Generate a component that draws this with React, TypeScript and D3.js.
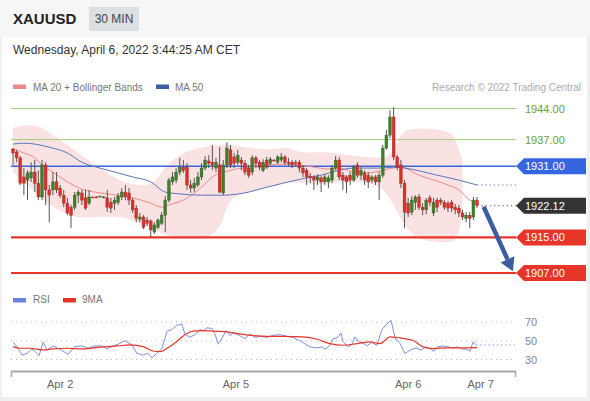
import React from "react";
import * as d3 from "d3";

// ---------- DATA ----------
const opens = [1934.9,1934.2,1932.9,1928.6,1927.9,1928.4,1929.7,1927.2,1924.1,1931.3,
1925.7,1925.7,1927.5,1926.1,1924.5,1922.7,1921.8,1921.8,1924.5,1925.0,
1923.9,1922.7,1924.1,1924.1,1924.1,1924.1,1923.9,1922.9,1922.7,1922.9,
1924.1,1925.2,1925.0,1923.4,1921.6,1919.1,1919.6,1918.9,1918.7,1916.2,
1917.3,1918.2,1920.0,1923.4,1927.5,1927.9,1929.7,1930.8,1930.8,1926.8,
1926.1,1926.8,1928.6,1930.6,1932.2,1931.9,1930.6,1931.3,1925.0,1931.3,
1934.7,1933.1,1931.9,1932.4,1931.7,1930.6,1929.7,1932.9,1931.9,1930.1,
1932.4,1931.7,1932.4,1931.9,1932.4,1933.1,1931.9,1931.9,1931.9,1931.9,
1930.6,1930.1,1928.8,1928.6,1927.9,1928.4,1927.5,1927.5,1927.9,1930.6,
1932.4,1929.0,1928.6,1929.0,1927.9,1931.3,1929.0,1929.5,1929.0,1927.9,
1928.6,1927.5,1929.0,1935.1,1938.0,1942.1,1933.1,1931.3,1927.2,1922.7,
1920.7,1922.9,1924.1,1921.8,1921.2,1923.9,1920.5,1923.4,1923.4,1922.9,
1922.7,1922.9,1921.8,1921.6,1920.5,1919.3,1920.0,1919.6,1923.4];
const highs = [1935.1,1934.7,1933.3,1930.6,1930.1,1931.9,1932.4,1930.1,1932.4,1931.9,
1926.8,1929.7,1929.7,1926.8,1925.7,1923.9,1922.3,1925.2,1925.7,1925.7,
1925.7,1925.7,1924.1,1924.3,1924.3,1924.3,1925.7,1923.9,1924.1,1925.0,
1926.1,1926.8,1926.1,1923.9,1922.3,1920.5,1920.0,1919.6,1919.1,1918.4,
1919.3,1920.7,1924.3,1928.4,1929.7,1930.6,1932.9,1932.4,1931.7,1927.9,
1928.4,1929.7,1931.7,1933.3,1933.5,1935.8,1932.9,1935.3,1932.4,1936.4,
1935.8,1934.0,1934.7,1933.1,1932.4,1931.3,1933.5,1933.3,1932.4,1932.6,
1933.1,1933.1,1932.6,1933.5,1934.0,1933.5,1932.9,1932.4,1932.4,1932.4,
1931.3,1930.6,1929.5,1929.0,1929.2,1928.8,1929.2,1929.0,1931.3,1933.3,
1933.1,1929.7,1929.0,1929.7,1931.3,1931.9,1930.8,1930.1,1929.7,1929.0,
1929.0,1929.7,1935.8,1939.2,1943.6,1944.3,1933.5,1932.4,1927.9,1923.9,
1924.3,1924.5,1924.8,1922.7,1923.9,1924.5,1923.9,1923.9,1923.9,1923.4,
1923.2,1923.4,1922.5,1922.3,1921.2,1920.7,1920.7,1924.1,1924.1];
const lows = [1931.3,1931.9,1926.8,1924.5,1923.4,1927.5,1925.2,1923.4,1923.4,1922.3,
1918.4,1924.5,1925.0,1923.9,1921.8,1920.0,1917.1,1921.2,1922.7,1922.3,
1921.2,1922.3,1923.9,1923.9,1924.1,1923.9,1920.7,1920.5,1921.2,1922.3,
1923.4,1923.4,1922.3,1920.5,1918.4,1918.4,1916.9,1917.6,1915.1,1915.8,
1916.9,1917.8,1916.2,1922.9,1926.8,1927.2,1929.0,1929.5,1925.7,1925.0,
1925.2,1926.3,1927.9,1930.1,1930.6,1930.1,1929.7,1925.0,1924.5,1930.6,
1930.6,1930.6,1931.3,1930.1,1929.0,1928.4,1929.0,1930.6,1930.1,1929.7,
1930.4,1931.3,1932.2,1931.5,1931.9,1931.3,1931.0,1930.6,1931.0,1929.7,
1928.6,1926.8,1927.2,1925.7,1926.8,1925.2,1926.8,1926.1,1927.2,1930.1,
1927.9,1925.7,1925.0,1926.8,1927.5,1928.4,1927.9,1926.8,1926.1,1927.2,
1926.8,1923.4,1928.4,1934.7,1937.3,1932.4,1930.1,1926.1,1917.1,1919.6,
1920.0,1921.2,1921.2,1920.0,1920.2,1922.0,1919.8,1920.7,1922.3,1921.2,
1920.7,1920.7,1920.2,1919.6,1918.9,1918.4,1917.1,1918.9,1921.6];
const closes = [1934.0,1932.9,1927.2,1927.2,1929.5,1929.7,1927.2,1924.1,1931.3,1925.7,
1924.5,1927.5,1925.7,1924.5,1922.7,1920.5,1920.0,1924.5,1925.2,1923.4,
1921.6,1924.1,1924.0,1924.0,1924.3,1924.1,1921.8,1921.6,1923.4,1924.3,
1925.2,1924.1,1923.4,1921.2,1919.3,1919.6,1917.3,1918.2,1916.7,1917.8,
1918.9,1920.0,1923.4,1927.9,1928.6,1929.7,1930.8,1930.1,1926.8,1926.1,
1927.2,1928.6,1930.6,1932.4,1931.7,1931.3,1931.9,1925.2,1931.3,1935.1,
1931.3,1931.7,1933.5,1931.7,1929.7,1929.0,1932.9,1931.7,1930.8,1931.9,
1930.8,1932.6,1932.3,1933.1,1933.1,1931.9,1931.7,1931.3,1931.7,1930.6,
1929.5,1928.6,1928.4,1927.9,1928.6,1927.5,1928.6,1928.4,1930.6,1932.4,
1928.6,1927.9,1927.5,1927.9,1930.8,1929.0,1930.1,1927.9,1927.5,1928.6,
1927.5,1929.0,1935.1,1938.0,1942.1,1933.1,1930.8,1927.2,1920.7,1920.5,
1923.4,1924.1,1921.8,1921.2,1923.4,1922.9,1922.9,1921.8,1922.9,1921.8,
1921.6,1921.6,1921.2,1920.5,1919.6,1920.0,1919.3,1923.4,1922.12];

// [candle index, price]
const ma50 = [[0,1936.0],[3,1936.2],[10,1935.3],[15,1934.0],[19,1931.9],[24,1930.6],[29,1929.5],[33,1928.6],[38,1927.5],[42,1925.2],[46,1924.8],[52,1924.5],[58,1924.5],[65,1925.2],[70,1926.3],[76,1927.5],[81,1928.4],[85,1929.0],[89,1929.9],[94,1930.6],[101,1930.6],[105,1930.8],[108,1930.6],[117,1929.0],[123,1927.9],[128,1926.8]];
const ma20 = [[0,1934.9],[3,1934.0],[6,1932.9],[8,1931.3],[11,1929.7],[15,1927.5],[19,1925.9],[24,1925.0],[29,1924.5],[33,1923.9],[38,1922.7],[41,1921.8],[43,1922.3],[47,1923.4],[52,1926.3],[55,1928.6],[60,1930.1],[65,1930.8],[70,1931.3],[76,1931.5],[79,1931.3],[83,1930.8],[87,1930.4],[90,1930.6],[94,1929.7],[98,1929.5],[102,1930.1],[107,1930.8],[112,1929.0],[120,1926.8],[123,1925.7],[126,1923.4],[128,1922.7]];
const bbUpper = [[0,1939.6],[3,1940.3],[7,1940.3],[10,1938.5],[14,1936.5],[18,1934.0],[24,1930.6],[29,1927.9],[33,1926.8],[38,1926.6],[40,1928.4],[43,1931.9],[46,1933.5],[49,1934.7],[53,1935.3],[57,1936.0],[61,1935.8],[65,1935.1],[70,1934.7],[74,1935.1],[76,1935.3],[79,1934.0],[83,1934.2],[87,1934.2],[92,1933.5],[97,1933.1],[101,1932.9],[104,1933.1],[106,1936.9],[108,1939.2],[112,1939.6],[117,1939.4],[121,1938.5],[122,1937.4],[124,1932.4]];
const bbLower = [[0,1929.7],[3,1927.5],[7,1924.5],[10,1922.3],[15,1920.0],[19,1919.3],[24,1919.6],[29,1919.8],[33,1918.9],[38,1917.1],[42,1915.3],[47,1914.9],[53,1914.9],[56,1916.0],[58,1918.9],[59,1922.3],[61,1924.3],[65,1925.2],[69,1926.1],[74,1927.2],[78,1927.5],[83,1926.8],[87,1927.2],[92,1927.5],[97,1927.5],[101,1926.8],[104,1924.1],[108,1917.3],[112,1914.4],[117,1913.9],[121,1913.9],[123,1914.9],[124,1921.2]];

const rsi = [[0,48.5],[1.1,43.8],[2.5,34.7],[3.9,36.5],[5.2,41.3],[6.1,38.4],[7.2,34.0],[8.3,48.5],[9.4,40.2],[11,44.5],[13,40.9],[15.2,35.5],[17.1,43.8],[19,44.5],[20.7,42.0],[22.6,44.5],[24.6,44.5],[25.9,41.3],[27.3,43.8],[29,46.4],[30.9,50.0],[32.8,45.6],[34.2,36.5],[35.9,34.7],[37.2,36.5],[38.3,31.8],[39.7,36.5],[41.1,42.0],[42.5,60.2],[43.9,62.0],[45.2,66.7],[46.6,67.5],[47.4,57.3],[48.8,53.6],[50.2,56.5],[51.6,62.0],[52.4,60.2],[53.5,63.8],[54.9,63.1],[55.7,57.3],[56.6,46.4],[57.7,52.9],[58.8,60.9],[59.9,55.5],[60.7,58.4],[62.1,56.5],[64,52.2],[65.4,57.3],[66.8,53.6],[68.1,54.7],[70.1,53.6],[71.7,55.8],[73.7,56.5],[75.6,54.7],[77.2,53.6],[78.6,51.1],[80,48.1],[81.9,43.5],[83.9,42.4],[85.2,43.5],[86.1,41.0],[87.4,45.2],[88.3,52.3],[89.4,53.0],[90.5,58.3],[91,49.5],[92.4,43.5],[93.5,45.9],[94.3,54.1],[95.2,49.5],[96.3,48.1],[97.7,44.5],[99,48.1],[100.4,45.2],[101.8,62.2],[103.2,68.2],[104.3,71.8],[105.4,53.0],[106.8,47.0],[108.1,36.4],[109.5,39.9],[111.2,42.4],[112.6,39.9],[113.9,43.5],[115,41.7],[116.1,38.8],[117.2,43.5],[118.6,44.5],[120,43.5],[121.4,42.4],[122.5,43.5],[123.9,41.0],[125,41.0],[126.1,38.8],[126.9,48.8],[127.7,46.0]];
const rsiMa = [[0,43.8],[1.9,42.0],[4.7,42.0],[8.3,40.2],[11,41.3],[14.9,42.0],[19.3,41.3],[24,43.1],[28.7,44.5],[32.3,45.6],[35.9,43.8],[38.6,39.1],[40.6,38.4],[42.5,42.0],[45.2,49.3],[47.4,56.5],[49.7,60.2],[52.4,60.9],[55.2,60.2],[59,59.5],[62.6,57.3],[66.2,55.5],[70.1,54.7],[74.5,54.7],[80,54.1],[83.9,51.6],[87.4,47.0],[91,45.2],[94.9,47.0],[98.5,48.8],[101.2,47.0],[104,54.1],[106.8,53.0],[110.3,50.5],[113.1,43.5],[115.9,41.7],[119.7,42.4],[123.3,42.4],[128,42.7]];

const levelPrices = [1944, 1937, 1931, 1922.12, 1915, 1907];
const levelLabels = ["1944.00", "1937.00", "1931.00", "1922.12", "1915.00", "1907.00"];
const rsiTicks = [70, 50, 30];
const timeTickIdx = [13, 61.5, 109, 129];
const timeTickLabels = ["Apr 2", "Apr 5", "Apr 6", "Apr 7"];

// ---------- STYLE ----------
const FONT = "'Liberation Sans', Arial, sans-serif";
const levelStyle = [
  { kind: "green", color: "#9fcd7c", text: "#6aa42c" },
  { kind: "green", color: "#9fcd7c", text: "#6aa42c" },
  { kind: "box", color: "#3566e0", text: "#fff" },
  { kind: "dotbox", color: "#333333", text: "#fff" },
  { kind: "box", color: "#e8352a", text: "#fff" },
  { kind: "box", color: "#e8352a", text: "#fff" },
];

export default function App() {
  const x = d3.scaleLinear().domain([0, 128]).range([13, 477]);
  const y = d3.scaleLinear().domain([1907, 1944]).range([273, 108.5]);
  const yR = d3.scaleLinear().domain([30, 70]).range([359.5, 322]);
  const left = 11, right = 516;

  const lineP = d3.line<number[]>().x(d => x(d[0])).y(d => y(d[1])).curve(d3.curveMonotoneX);
  const bandLine = d3.line<number[]>().x(d => x(d[0])).y(d => y(d[1])).curve(d3.curveBasis);
  const upPath = bandLine(bbUpper) || "";
  const loPath = (bandLine([...bbLower].reverse()) || "").replace(/^M/, "L");
  const bandPath = upPath + loPath + "Z";

  const lineR = d3.line<number[]>().x(d => x(d[0])).y(d => yR(d[1]));
  const lineRS = d3.line<number[]>().x(d => x(d[0])).y(d => yR(d[1])).curve(d3.curveMonotoneX);

  const n = closes.length;
  const bw = 2.8;

  const lastMa50 = ma50[ma50.length - 1];
  const lastRsi = rsi[rsi.length - 1];

  // arrow
  const ax0 = x(n) + 3, ay0 = y(1921.9);
  const ax1 = x(137.9), ay1 = y(1907.4);
  const ang = Math.atan2(ay1 - ay0, ax1 - ax0);
  const hl = 13, hw = 7.5;
  const bx = ax1 - hl * Math.cos(ang), by = ay1 - hl * Math.sin(ang);
  const head = [
    [ax1, ay1],
    [bx + hw * Math.sin(ang), by - hw * Math.cos(ang)],
    [bx - hw * Math.sin(ang), by + hw * Math.cos(ang)],
  ];

  return (
    <div style={{ position: "fixed", left: 0, top: 0 }}>
      <svg width={590} height={401} style={{ display: "block", fontFamily: FONT }}>
        <rect x={0} y={0} width={590} height={401} fill="#efefef" />
        <rect x={0} y={0} width={590} height={37} fill="#f6f6f6" />
        <rect x={2} y={37} width={585} height={360} fill="#ffffff" />

        {/* header */}
        <text x={13} y={24} fontSize={15} fontWeight="bold" fill="#222">XAUUSD</text>
        <rect x={89} y={7} width={50} height={24} fill="#dcdfe4" />
        <text x={114} y={23} fontSize={12} fill="#444" textAnchor="middle">30 MIN</text>
        <text x={13} y={54} fontSize={12} fill="#333">Wednesday, April 6, 2022 3:44:25 AM CET</text>

        {/* legend */}
        <rect x={13} y={84.5} width={13} height={4.5} fill="#ec8a8a" />
        <text x={33} y={91} fontSize={10} fill="#777">MA 20 + Bollinger Bands</text>
        <rect x={156} y={84.5} width={13} height={4.5} fill="#3a5ea8" />
        <text x={175} y={91} fontSize={10} fill="#777">MA 50</text>
        <text x={581} y={91} fontSize={10} fill="#aaa" textAnchor="end">Research © 2022 Trading Central</text>

        {/* bollinger band */}
        <path d={bandPath} fill="#fbe2e2" />

        {/* level lines */}
        {levelPrices.map((p, i) => {
          const st = levelStyle[i];
          const yy = y(p);
          if (st.kind === "dotbox") {
            return <line key={i} x1={x(n) + 1} x2={right} y1={yy} y2={yy} stroke="#555" strokeWidth={1} strokeDasharray="1.2,3" />;
          }
          return (
            <line key={i} x1={left} x2={right} y1={yy} y2={yy} stroke={st.color}
              strokeWidth={st.kind === "green" ? 1 : st.color === "#e8352a" ? 2.2 : 1.4} />
          );
        })}

        {/* MA lines */}
        <path d={lineP(ma20) || ""} fill="none" stroke="#f08a84" strokeWidth={1} />
        <path d={lineP(ma50) || ""} fill="none" stroke="#5877bb" strokeWidth={1} />
        <line x1={x(lastMa50[0])} x2={right} y1={y(lastMa50[1])} y2={y(lastMa50[1])} stroke="#5877bb" strokeWidth={1} strokeDasharray="1.2,3" />

        {/* candles */}
        {closes.map((c, i) => {
          const o = opens[i];
          const up = c >= o;
          const cx = x(i);
          const top = y(Math.max(o, c));
          const bot = y(Math.min(o, c));
          const h = Math.max(1, bot - top);
          return (
            <g key={i}>
              <line x1={cx} x2={cx} y1={y(highs[i])} y2={y(lows[i])} stroke="#555" strokeWidth={1} />
              <rect x={cx - bw / 2} y={top} width={bw} height={h}
                fill={up ? "#3f7f2c" : "#d8302a"} stroke={up ? "#2f5f22" : "#a82420"} strokeWidth={0.4} />
            </g>
          );
        })}

        {/* arrow */}
        <line x1={ax0} y1={ay0} x2={bx} y2={by} stroke="#3a5d9e" strokeWidth={4.5} />
        <polygon points={head.map(p => p.join(",")).join(" ")} fill="#3a5d9e" />

        {/* level labels */}
        {levelPrices.map((p, i) => {
          const st = levelStyle[i];
          const yy = y(p);
          if (st.kind === "green") {
            return <text key={i} x={525} y={yy + 4} fontSize={11} fill={st.text}>{levelLabels[i]}</text>;
          }
          const pts = `${right},${yy} ${right + 8},${yy - 8} 586,${yy - 8} 586,${yy + 8} ${right + 8},${yy + 8}`;
          return (
            <g key={i}>
              <polygon points={pts} fill={st.color} />
              <text x={525} y={yy + 4} fontSize={11} fill={st.text}>{levelLabels[i]}</text>
            </g>
          );
        })}

        {/* RSI legend */}
        <rect x={13} y={298} width={13} height={4.5} fill="#6b83e0" />
        <text x={33} y={303} fontSize={10} fill="#777">RSI</text>
        <rect x={63} y={298} width={13} height={4.5} fill="#e8352a" />
        <text x={82} y={303} fontSize={10} fill="#777">9MA</text>

        {/* RSI grid */}
        {rsiTicks.map(t => (
          <g key={t}>
            <line x1={left} x2={right} y1={yR(t)} y2={yR(t)} stroke="#bbb" strokeWidth={1} strokeDasharray="1,4" />
            <text x={525} y={yR(t) + 4} fontSize={11} fill="#888">{t}</text>
          </g>
        ))}
        <path d={lineR(rsi) || ""} fill="none" stroke="#7b8fe6" strokeWidth={1} />
        <path d={lineRS(rsiMa) || ""} fill="none" stroke="#e8352a" strokeWidth={1.2} />
        <line x1={x(lastRsi[0])} x2={right} y1={yR(45.5)} y2={yR(45.5)} stroke="#7b8fe6" strokeWidth={1} strokeDasharray="1.2,3" />

        {/* time axis */}
        <line x1={left} x2={right} y1={371.5} y2={371.5} stroke="#aaa" strokeWidth={2} />
        <line x1={left + 0.5} x2={left + 0.5} y1={371} y2={377} stroke="#aaa" strokeWidth={1.5} />
        <line x1={right - 0.5} x2={right - 0.5} y1={371} y2={377} stroke="#aaa" strokeWidth={1.5} />
        {timeTickIdx.map((t, i) => (
          <text key={i} x={x(t)} y={388} fontSize={11} fill="#666" textAnchor="middle">{timeTickLabels[i]}</text>
        ))}
      </svg>
    </div>
  );
}
